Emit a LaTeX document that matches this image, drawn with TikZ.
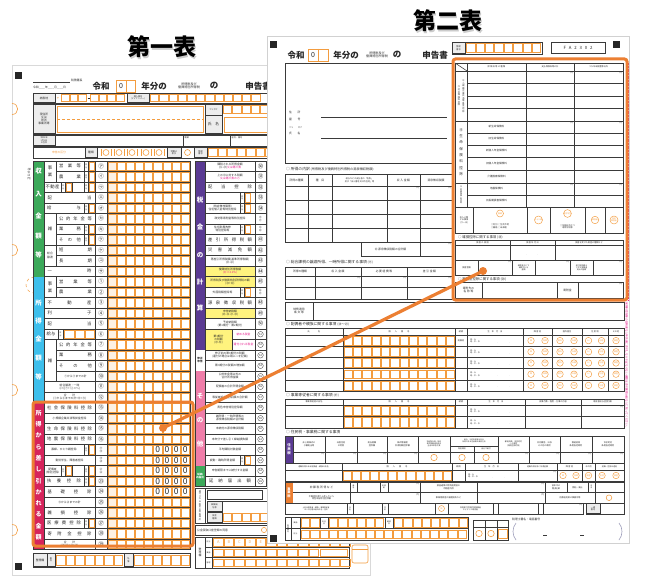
\documentclass[tikz,border=0pt]{standalone}
\usepackage{fontspec}
\setmainfont{Noto Sans CJK JP}
\XeTeXlinebreaklocale "ja"
\XeTeXlinebreakskip=0pt plus 1pt
\definecolor{acc}{HTML}{EC7F32}
\definecolor{oc}{HTML}{F39C3F}
\definecolor{grn}{HTML}{3CA95A}
\definecolor{blu}{HTML}{3DBFEC}
\definecolor{pur}{HTML}{5A3A93}
\definecolor{pnk}{HTML}{EF7DA9}
\definecolor{crm}{HTML}{D6245C}
\definecolor{yel}{HTML}{FFF37E}
\definecolor{mag}{HTML}{E6198C}
\definecolor{gln}{HTML}{3A3A3A}
\definecolor{txt}{HTML}{2A2A2A}
\definecolor{lgy}{HTML}{EDEDED}
\newcommand\zfz[1]{\fontsize{#1}{\dimexpr #1pt*23/20\relax}\selectfont}
\def\zjbfirst#1{#1\zjbnext}
\def\zjbnext#1{\ifx\relax#1\else\hfill#1\expandafter\zjbnext\fi}
\newcommand\zJB[2]{\makebox[#1pt]{\zjbfirst#2\relax}}
\tikzset{
  gl/.style={draw=gln,line width=0.55pt},
  ocl/.style={draw=oc,line width=0.55pt},
  lbl/.style={font=\zfz{4.3},text=txt,inner sep=0pt,align=center},
  lbs/.style={font=\zfz{2.8},text=txt,inner sep=0pt,align=center},
  lbt/.style={font=\zfz{2.1},text=txt,inner sep=0pt,align=center},
  num/.style={font=\zfz{5.5},text=txt,inner sep=0pt},
  bandtxt/.style={font=\bfseries\zfz{6.5},text=white,inner sep=0pt},
  vt/.style={text width=#1,align=center,inner sep=0pt,text=txt},
  hd/.style={font=\zfz{3.8},text=txt,inner sep=0pt,anchor=west},
  yen/.style={font=\zfz{2.2},text=txt,inner sep=0.4pt,anchor=north east},
  ttl/.style={font=\bfseries\zfz{23},inner sep=0pt},
  hdr/.style={font=\bfseries\zfz{8.5},text=black!85,inner sep=0pt},
  hlbox/.style={draw=acc,line width=3pt,rounded corners=2.5pt},
  ocirc/.style={circle,draw=oc,line width=0.45pt,inner sep=0pt,minimum size=6.5pt,font=\zfz{1.9},text=oc,align=center},
  lcell/.style={fill=lgy,draw=gln,line width=0.55pt},
}
% row helpers (row pitch 10.5, first row top 161)
\newcommand\zLL[4]{\node[lbl] at ({(#2+#3)/2},{161+(#1+0.5)*10.5}) {#4};}
\newcommand\zLS[4]{\node[lbs] at ({(#2+#3)/2},{161+(#1+0.5)*10.5}) {#4};}
\newcommand\zNM[3]{\node[num] at (#2,{161+(#1+0.5)*10.5}) {#3};}
\newcommand\zNC[3]{\node[circle,draw=txt,line width=0.3pt,inner sep=0pt,minimum size=5.6pt,font=\zfz{2.6},text=txt] at (#2,{161+(#1+0.5)*10.5}) {#3};}
\newcommand\zHL[3]{\draw[gl] (#2,{161+(#1)*10.5}) -- (#3,{161+(#1)*10.5});}
\newcommand\zVL[3]{\draw[gl] (#1,{161+(#2)*10.5}) -- (#1,{161+(#3)*10.5});}
\newcommand\zCC[4]{\foreach \k in {1,...,#3}{\draw[ocl] ({#2+(\k-1)*#4+0.5},{161+(#1)*10.5+1.1}) rectangle ({#2+\k*#4-0.5},{161+(#1+1)*10.5-1.1});}}
\newcommand\zOX[5]{\foreach \k in {1,...,#4}{\draw[ocl] ({#1+(\k-1)*#5+0.5},#2) rectangle ({#1+\k*#5-0.5},#3);}}
\newcommand\zGL[3]{\node[lbl] at (50,{161+((#1)+(#2)+1)/2*10.5}) {#3};}
\newcommand\zKB[2]{%
  \draw[gl] (#2,{161+(#1)*10.5}) -- (#2,{161+(#1+1)*10.5});
  \draw[gl] ({#2+4.5},{161+(#1)*10.5}) -- ({#2+4.5},{161+(#1+1)*10.5});
  \node[font=\zfz{1.9},text=txt,inner sep=0pt,text width=2pt,align=center] at ({#2+2.25},{161+(#1+0.5)*10.5}) {区分};
  \draw[ocl] ({#2+5.2},{161+(#1)*10.5+1.1}) rectangle ({#2+10.6},{161+(#1+1)*10.5-1.1});}
\begin{document}
\begin{tikzpicture}[x=1pt,y=-1pt]
\useasboundingbox (0,0) rectangle (650,586);
\fill[white] (0,0) rectangle (650,586);

% ---------------- titles
\node[ttl,text=black!20] at (163.3,48.3) {第一表};
\node[ttl] (t1) at (162,47) {第一表};
\node[ttl,text=black!20] at (449.3,22.3) {第二表};
\node[ttl] (t2) at (448,21) {第二表};

% ================= LEFT SHEET (第一表)
\draw[draw=black!15,fill=white,line width=0.6pt] (12,65) rectangle (370,575);
\foreach \yy in {109,250,390,530}
  {\draw[ocl,line width=0.6pt] (12,{\yy-5.5}) .. controls (19.5,{\yy-5.5}) and (19.5,{\yy+5.5}) .. (12,{\yy+5.5});}
\draw[ocl,dashed,line width=0.5pt] (34,285) circle[radius=8pt];
\fill[black!85] (15,72) rectangle (22,79);
\fill[black!85] (15,563) rectangle (22,570);

% header
\draw[gl] (33,82) -- (70,82);
\node[lbs,anchor=west] at (71,80.5) {税務署長};
\node[lbs,anchor=west] at (33,87.5) {令和\_\_\_\_年\_\_\_\_月\_\_\_\_日};
\node[hdr] (l-reiwa) at (101,86) {令和};
\draw[ocl,line width=0.7pt,fill=white] (116,80) rectangle (135,92);
\draw[ocl] (126,80) -- (126,92);
\node[font=\zfz{7},text=txt,inner sep=0pt] at (121,86) {0};
\node[hdr] at (154,86) {年分の};
\node[lbt,font=\zfz{3.1}] at (189,86) {所得税及び\\復興特別所得税};
\node[hdr] at (214,86) {の};
\node[hdr] at (258,86) {申告書};

% 納税地 row
\draw[gl] (33,93) rectangle (275,103);
\draw[lcell] (33.5,93.5) rectangle (55,102.5);
\node[lbs] at (44,98) {納税地};
\node[lbs,text=oc] at (58,98) {〒};
\zOX{61}{94.3}{101.7}{3}{8.6}
\draw[txt,line width=0.4pt] (87.5,98) -- (89.5,98);
\zOX{90}{94.3}{101.7}{4}{8.6}
\draw[lcell] (127,93.5) rectangle (149,102.5);
\node[lbt] at (138,98) {個人番号\\(マイナンバー)};
\zOX{150}{94.3}{101.7}{12}{9.2}

% address block
\draw[gl] (33,104) rectangle (275,134);
\draw[lcell] (33.5,104.5) rectangle (55,133.5);
\node[lbs] at (44,119) {現住所\\又は\\居所\\事業所等};
\draw[ocl,line width=0.6pt] (57,106) rectangle (203,132);
\draw[ocl,densely dashed] (57,119) -- (203,119);
\draw[lcell] (205,104.5) rectangle (222,115);
\draw[lcell] (205,115) rectangle (222,133.5);
\node[lbt] at (213.5,109.5) {フリガナ};
\node[lbl,font=\zfz{3.8}] at (213.5,124.5) {氏\quad 名};
\zOX{223}{105.5}{113.5}{5}{9.2}
\draw[ocl,line width=0.6pt] (224,117) rectangle (275,132);

% row 135-146
\draw[gl] (33,135) rectangle (275,146);
\draw[lcell] (33.5,135.5) rectangle (55,145.5);
\draw[gl] (183,135) -- (183,146); \draw[gl] (230,135) -- (230,146);
\node[lbt] at (44,140.5) {令和5年\\1月1日\\の住所};
\node[lbt,anchor=north west] at (184.5,136.5) {職業};
\node[lbt,anchor=north west] at (231.5,136.5) {屋号・雅号};

% row 147-158
\draw[gl] (33,147) rectangle (275,158);
\node[lbs,text=oc] at (59,152.5) {申告の区分};
\draw[lcell] (85,147.5) rectangle (97,157.5);
\node[lbs] at (91,152.5) {種類};
\foreach \xx in {106,119,132,146,159} {
  \draw[ocl] (\xx,152.5) circle[radius=3pt];
  \draw[ocl] ({\xx-5},149) -- ({\xx-5},156); \draw[ocl] ({\xx+5},149) -- ({\xx+5},156);}
\draw[lcell] (167,147.5) rectangle (181,157.5);
\draw[gl] (194,147) -- (194,158);
\draw[lcell] (194,147.5) rectangle (207,157.5);
\node[lbt] at (174,152.5) {特農の\\表示};
\draw[ocl] (187.5,152.5) circle[radius=3pt];
\node[lbt] at (200.5,152.5) {整理\\番号};
\zOX{208}{148.5}{156.5}{7}{9.5}

% ---- main grid, left half
\node[lbt,font=\zfz{2.6},text width=3pt] at (29,174) {(単位は円)};
\fill[grn] (33,161) rectangle (44,276.5);
\fill[blu] (33,276.5) rectangle (44,402.5);
\fill[crm] (33,402.5) rectangle (44,549.5);
\foreach \c/\yy in {収/171,入/194,金/216,額/236,等/255} {\node[bandtxt] at (38.5,\yy) {\c};}
\foreach \c/\yy in {所/303,得/321,金/339,額/358,等/377} {\node[bandtxt] at (38.5,\yy) {\c};}
\foreach \c [count=\n from 0] in {所,得,か,ら,差,し,引,か,れ,る,金,額}
  {\node[bandtxt,font=\bfseries\zfz{6}] at (38.5,{413+\n*11.3}) {\c};}
\draw[gl] (33,161) rectangle (190,549.5);
\foreach \i in {0,2,3,4,5,8,10,11,13,14,15,16,17,21,22,...,37} {\zHL{\i}{44}{190}}
\foreach \i in {1,6,7,9,12,18,19,20} {\zHL{\i}{56}{190}}
\zVL{44}{0}{37} \zVL{95}{0}{37} \zVL{107}{0}{37}
\zVL{56}{0}{2} \zVL{56}{5}{10} \zVL{56}{11}{13} \zVL{56}{17}{21}
\foreach \i in {0,...,36} {\fill[oc!14] (108,{161+\i*10.5+1.1}) rectangle (116.15,{161+(\i+1)*10.5-1.1});}
\foreach \i in {0,...,36} {\zCC{\i}{107.5}{9}{9.15}}
\foreach \i in {0,...,36} {\foreach \k in {3,6} {\draw[oc,line width=1pt] ({107.5+\k*9.15},{161+\i*10.5+1.1}) -- ({107.5+\k*9.15},{161+(\i+1)*10.5-1.1});}}
\foreach \i in {27,...,31} {\foreach \k in {5,...,8} {\node[font=\zfz{8.5},text=txt,inner sep=0pt] at ({107.5+(\k+0.5)*9.15},{161+(\i+0.5)*10.5}) {0};}}

\zGL{0}{1}{事\\[2pt]業}
\zLL{0}{56}{84}{\zJB{22}{営業等}} \zKB{0}{84}
\zLL{1}{56}{84}{\zJB{22}{農業}} \zKB{1}{84}
\zLL{2}{44}{61}{\zJB{14}{不動産}} \zKB{2}{61} \zVL{72}{2}{3} \zKB{2}{84}
\zLL{3}{44}{95}{\zJB{44}{配当}}
\zLL{4}{44}{84}{\zJB{34}{給与}} \zKB{4}{84}
\zGL{5}{7}{雑}
\zLL{5}{56}{95}{\zJB{33}{公的年金等}}
\zLL{6}{56}{84}{\zJB{22}{業務}} \zKB{6}{84}
\zLL{7}{56}{84}{\zJB{22}{その他}} \zKB{7}{84}
\node[lbs] at (50,255.5) {総合\\譲渡};
\zLL{8}{56}{95}{\zJB{33}{短期}}
\zLL{9}{56}{95}{\zJB{33}{長期}}
\zLL{10}{44}{95}{\zJB{44}{一時}}
\zGL{11}{12}{事\\[2pt]業}
\zLL{11}{56}{95}{\zJB{33}{営業等}}
\zLL{12}{56}{95}{\zJB{33}{農業}}
\zLL{13}{44}{95}{\zJB{44}{不動産}}
\zLL{14}{44}{95}{\zJB{44}{利子}}
\zLL{15}{44}{95}{\zJB{44}{配当}}
\zLL{16}{44}{58}{給与} \zVL{58}{16}{17} \zVL{63}{16}{17}
\node[font=\zfz{1.9},text=txt,inner sep=0pt,text width=2pt,align=center] at (60.5,{161+16.5*10.5}) {区分};
\zCC{16}{64}{3}{10.3}
\zGL{17}{20}{雑}
\zLL{17}{56}{95}{\zJB{33}{公的年金等}}
\zLL{18}{56}{95}{\zJB{33}{業務}}
\zLL{19}{56}{95}{\zJB{33}{その他}}
\zLS{20}{56}{95}{⑦から⑨までの計}
\zLS{21}{44}{95}{総合譲渡・一時\\㋙+\{(㋘+㋛)×½\}}
\zLS{22}{44}{95}{合\qquad 計\\(①から⑥までの計+⑩+⑪)}
\zLL{23}{44}{95}{\zJB{45}{社会保険料控除}}
\zLS{24}{44}{95}{小規模企業共済等掛金控除}
\zLL{25}{44}{95}{\zJB{45}{生命保険料控除}}
\zLL{26}{44}{95}{\zJB{45}{地震保険料控除}}
\zLS{27}{44}{84}{寡婦、ひとり親控除} \zKB{27}{84}
\zLS{28}{44}{95}{勤労学生、障害者控除}
\zLS{29}{44}{61}{配偶者\\(特別)控除} \zKB{29}{61} \zVL{72}{29}{30} \zKB{29}{84}
\zLL{30}{44}{84}{\zJB{34}{扶養控除}} \zKB{30}{84}
\zLL{31}{44}{95}{\zJB{44}{基礎控除}}
\zLS{32}{44}{95}{⑬から㉔までの計}
\zLL{33}{44}{95}{\zJB{44}{雑損控除}}
\zLL{34}{44}{84}{\zJB{34}{医療費控除}} \zKB{34}{84}
\zLL{35}{44}{95}{\zJB{44}{寄附金控除}}
\zLS{36}{44}{95}{合\qquad 計\\(㉕+㉖+㉗+㉘)}
\foreach \i/\g in {0/㋐,1/㋑,2/㋒,3/㋓,4/㋔,5/㋕,6/㋖,7/㋗,8/㋘,9/㋙,10/㋚,11/①,12/②,13/③,14/④,15/⑤,16/⑥,17/⑦,18/⑧,19/⑨,20/⑩,21/⑪,22/⑫,23/⑬,24/⑭,25/⑮,26/⑯,30/㉓,31/㉔,32/㉕,33/㉖,34/㉗,35/㉘,36/㉙}
  {\zNM{\i}{101}{\g}}
\node[lbt,font=\zfz{2.8}] at (101,{161+27.5*10.5}) {⑰\\⑱};
\node[lbt,font=\zfz{2.8}] at (101,{161+28.5*10.5}) {⑲\\⑳};
\node[lbt,font=\zfz{2.8}] at (101,{161+29.5*10.5}) {㉑\\㉒};

% bottom 整理欄 (left)
\draw[gl] (33,553) rectangle (190,567);
\draw[lcell] (33.5,553.5) rectangle (47,566.5);
\draw[lcell] (47,553.5) rectangle (55,566.5);
\node[lbs] at (40,560) {整理欄};
\node[lbt] at (51,560) {番\\号};
\zOX{56}{555}{565}{7}{9.6}
\draw[lcell] (124,553.5) rectangle (133,566.5);
\node[lbt] at (128.5,560) {名\\簿};
\zOX{134}{555}{565}{6}{9.3}

% ---- main grid, right half
\fill[pur] (195,161) rectangle (205,350);
\fill[pnk] (195,371) rectangle (205,465.5);
\fill[grn] (195,465.5) rectangle (205,486.5);
\foreach \yy in {10,11,14} {\fill[yel] (205.3,{161+\yy*10.5+0.3}) rectangle (254.7,{161+(\yy+1)*10.5-0.3});}
\fill[yel] (205.3,{161+16*10.5+0.3}) rectangle (231.7,{161+18*10.5-0.3});
\foreach \c/\yy in {税/200,金/227,の/255,計/282,算/308} {\node[bandtxt] at (200,\yy) {\c};}
\foreach \c/\yy in {そ/396,の/420,他/444} {\node[bandtxt] at (200,\yy) {\c};}
\node[bandtxt,font=\bfseries\zfz{2.6},align=center] at (200,476) {延納\\の届出};
\node[lbt,font=\bfseries\zfz{2.6}] at (200,360.5) {修正\\申告};
\draw[gl] (195,161) rectangle (275,486.5);
\foreach \i in {1,...,16,18,19,...,30} {\zHL{\i}{205}{275}}
\zHL{17}{232}{275}
\zVL{205}{0}{31} \zVL{255}{0}{31} \zVL{266}{0}{31} \zVL{232}{16}{18}
\zLS{0}{205}{255}{課税される所得金額\\(⑫-㉙){\color{mag}又は第三表}}
\zLS{1}{205}{255}{上の㉚に対する税額\\{\color{mag}又は第三表の㊇}}
\zLL{2}{205}{255}{\zJB{44}{配当控除}}
\zVL{240}{3}{4} \zKB{3}{240}
\zLS{4}{205}{240}{(特定増改築等)\\住宅借入金等特別控除} \zKB{4}{240}
\zLS{5}{205}{255}{政党等寄附金等特別控除}
\zLS{6}{205}{240}{住宅耐震改修\\特別控除等} \zKB{6}{240}
\zLL{7}{205}{255}{\zJB{44}{差引所得税額}}
\zLL{8}{205}{255}{\zJB{44}{災害減免額}}
\zLS{9}{205}{255}{再差引所得税額(基準所得税額)\\(㊶-㊷)}
\zLS{10}{205}{255}{復興特別所得税額\\{\color{mag}(㊸×2.1\%)}}
\zLS{11}{205}{255}{所得税及び復興特別所得税の額\\(㊸+㊹)}
\zLS{12}{205}{240}{外国税額控除等} \zKB{12}{240}
\zLL{13}{205}{255}{\zJB{44}{源泉徴収税額}}
\zLS{14}{205}{255}{申告納税額\\(㊺-㊻-㊼-㊽)}
\zLS{15}{205}{255}{予定納税額\\(第1期分・第2期分)}
\node[lbs] at (218.5,{161+17*10.5}) {第3期分\\の税額\\(㊾-㊿)};
\zLS{16}{232}{255}{\color{mag}納める税金}
\zLS{17}{232}{255}{\color{mag}還付される税金}
\zLS{18}{205}{255}{修正前の第3期分の税額\\(還付の場合は頭に△を記載)}
\zLS{19}{205}{255}{第3期分の税額の増加額}
\zLS{20}{205}{255}{公的年金等以外の\\合計所得金額}
\zLS{21}{205}{255}{配偶者の合計所得金額}
\zLS{22}{205}{255}{専従者給与(控除)額の合計額}
\zLS{23}{205}{255}{青色申告特別控除額}
\zLS{24}{205}{255}{雑所得・一時所得等の\\源泉徴収税額の合計額}
\zLS{25}{205}{255}{未納付の源泉徴収税額}
\zLS{26}{205}{255}{本年分で差し引く繰越損失額}
\zLS{27}{205}{255}{平均課税対象金額}
\zLS{28}{205}{240}{変動・臨時所得金額} \zKB{28}{240}
\zLS{29}{205}{255}{申告期限までに納付する金額}
\zLL{30}{205}{255}{\zJB{42}{延納届出額}}
\foreach \i/\g in {0/㉚,1/㉛,2/㉜,3/㉝,4/㉞,7/㊶,8/㊷,9/㊸,10/㊹,11/㊺,13/㊽,14/㊾,15/㊿}
  {\zNM{\i}{260.5}{\g}}
\node[lbt,font=\zfz{2.6}] at (260.5,{161+5.5*10.5}) {㉟\\㊲};
\node[lbt,font=\zfz{2.6}] at (260.5,{161+6.5*10.5}) {㊳\\㊵};
\node[lbt,font=\zfz{2.6}] at (260.5,{161+12.5*10.5}) {㊻\\㊼};
\foreach \i in {16,...,30} {\pgfmathtruncatemacro\nn{\i+35}\zNC{\i}{260.5}{\nn}}

% 還付 block
\draw[gl] (195,488) rectangle (275,523);
\draw[gl] (205,488) -- (205,523);
\node[vt=2.4pt,font=\zfz{2.2}] at (200,505.5) {還付される税金の受取場所};
\draw[gl] (207,490) rectangle (262,499);
\draw[lcell] (207,501) rectangle (222,511); \draw[gl] (222,501) -- (275,501);
\node[lbt] at (214.5,506) {郵便局\\名等};
\draw[lcell] (207,512) rectangle (222,522);
\node[lbt] at (214.5,517) {預金\\種類};
\zOX{223}{513}{521}{5}{9.2}
% 公金
\draw[gl] (195,525) rectangle (275,535);
\node[lbs,anchor=west] at (197,530) {公金受取口座登録の同意};
\draw[ocl] (264,530) circle[radius=2.6pt];
% 整理欄 (right)
\draw[gl] (195,537) rectangle (349,568);
\draw[gl] (205,537) -- (205,568); \draw[gl] (212,537) -- (212,568);
\draw[gl] (205,547.5) -- (349,547.5); \draw[gl] (205,557.5) -- (349,557.5);
\node[lbs] at (200,552.5) {整\\理\\欄};
\node[lbt,font=\zfz{1.8}] at (208.5,542.25) {区分};
\node[lbt,font=\zfz{1.8}] at (208.5,552.5) {異動};
\node[lbt,font=\zfz{1.8}] at (208.5,562.75) {管理};
\foreach \c [count=\n from 0] in {A,B,C,D,E,F,G,H,I,J,K,L,M} {
  \draw[ocl] ({213+\n*10.6+0.5},538.5) rectangle ({213+(\n+1)*10.6-0.5},546.5);
  \node[font=\zfz{4},text=oc!80,inner sep=0pt] at ({213+(\n+0.5)*10.6},542.5) {\c};}
\zOX{213}{549}{556.5}{10}{10.6}
\draw[ocl] (320,549) rectangle (347,556.5);
\zOX{213}{559}{566.5}{13}{10.6}
\draw[ocl,line width=0.6pt,rounded corners=2pt] (352,545) rectangle (368,563);
\draw[ocl] (352,549) -- (368,549);

% left highlight box
\draw[hlbox] (33,402) rectangle (193,546);

% ================= RIGHT SHEET (第二表)
\draw[draw=black!18,fill=white,line width=0.6pt] (267,36) rectangle (629,543);
\fill[black!85] (270,41) rectangle (277,48);
\fill[black!85] (613,41) rectangle (620,48);
\fill[black!85] (270,535) rectangle (277,542);
\node[hdr] (r-reiwa) at (296,55) {令和};
\draw[ocl,line width=0.7pt] (308,49) rectangle (328,61);
\draw[ocl] (318,49) -- (318,61);
\node[font=\zfz{7},text=txt,inner sep=0pt] at (313,55) {0};
\node[hdr] at (346,55) {年分の};
\node[lbt,font=\zfz{3.1}] at (377,55) {所得税及び\\復興特別所得税};
\node[hdr] at (397,55) {の};
\node[hdr] at (435,55) {申告書};
\draw[gl] (452,42) rectangle (542,54);
\draw[lcell] (452.5,42.5) rectangle (465,53.5);
\node[lbt] at (458.5,48) {整理\\番号};
\zOX{466}{43.5}{52.5}{8}{9.4}
\draw[gl,line width=0.6pt] (551,42) rectangle (605,53);
\node[font=\zfz{4.3},text=txt,inner sep=0pt] at (578,47.5) {F\ \ \ A\ \ \ 2\ \ \ 3\ \ \ 0\ \ \ 2};

% address
\draw[gl] (285,63) rectangle (452,163);
\node[lbs,anchor=west] at (289,112) {住\qquad 所};
\node[lbs,anchor=west] at (289,119) {屋\qquad 号};
\node[lbt,anchor=west] at (289,127.5) {フリ\qquad\ ガナ};
\node[lbs,anchor=west] at (289,133) {氏\qquad 名};
\draw[gln,line width=0.6pt] (321,117) -- (447,117);
\draw[gln,line width=0.6pt] (321,138) -- (447,138);

% 所得の内訳
\node[hd] at (286,169) {○\ 所得の内訳\ {\zfz{3.2}(所得税及び復興特別所得税の源泉徴収税額)}};
\draw[gl] (285,174) rectangle (452,242);
\foreach \yy in {186,200,214,228} {\draw[gl] (285,\yy) -- (452,\yy);}
\foreach \xx in {308,332,387,420} {\draw[gl] (\xx,174) -- (\xx,242);}
\node[lbs] at (296.5,180) {所得の種類};
\node[lbs] at (320,180) {種\quad 目};
\node[lbt] at (359.5,180) {給与などの支払者の「名称」\\及び「法人番号又は所在地」等};
\node[lbs] at (403.5,180) {収\ 入\ 金\ 額};
\node[lbs] at (436,180) {源泉徴収税額};
\node[yen] at (419.5,186.3) {円}; \node[yen] at (451.5,186.3) {円};
\draw[gl] (361,242) rectangle (452,256);
\draw[gl] (420,242) -- (420,256);
\node[lbs] at (390.5,249) {㊽\ 源泉徴収税額の合計額};
\node[yen] at (451.5,242.3) {円};

% 総合課税の譲渡所得
\node[hd] at (286,262) {○\ 総合課税の譲渡所得、一時所得に関する事項\ {\zfz{3.2}(⑪)}};
\draw[gl] (285,267) rectangle (452,299);
\draw[gl] (285,276) -- (452,276); \draw[gl] (285,287.5) -- (452,287.5);
\foreach \xx in {315,361,407} {\draw[gl] (\xx,267) -- (\xx,299);}
\node[lbs] at (300,271.5) {所得の種類};
\node[lbs] at (338,271.5) {収\ 入\ 金\ 額};
\node[lbs] at (384,271.5) {必\ 要\ 経\ 費\ 等};
\node[lbs] at (429.5,271.5) {差\ 引\ 金\ 額};
\node[yen] at (360.5,276.3) {円}; \node[yen] at (406.5,276.3) {円}; \node[yen] at (451.5,276.3) {円};

% 特例適用条文等
\draw[gl] (285,302) rectangle (624,320);
\draw[gl] (313,302) -- (313,320);
\node[lbs] at (299,311) {特例適用\\条\ 文\ 等};

% 配偶者や親族
\node[hd] at (286,324) {○\ 配偶者や親族に関する事項\ {\zfz{3.2}(⑳～㉓)}};
\draw[gl] (285,328) rectangle (624,391);
\draw[gl] (285,335) -- (624,335);
\foreach \r in {1,...,4} {\draw[gl] (285,{335+\r*11.2}) -- (624,{335+\r*11.2});}
\foreach \xx in {343,455,467,523,552,582,608} {\draw[gl] (\xx,328) -- (\xx,391);}
\node[lbt] at (314,331.5) {氏\qquad\qquad 名};
\node[lbt] at (399,331.5) {個\qquad 人\qquad 番\qquad 号};
\node[lbt] at (461,331.5) {続柄};
\node[lbt] at (495,331.5) {生\quad 年\quad 月\quad 日};
\node[lbt] at (537.5,331.5) {障\ 害\ 者};
\node[lbt] at (567,331.5) {国外居住};
\node[lbt] at (595,331.5) {住\ 民\ 税};
\node[lbt] at (616,331.5) {その他};
\node[lbt] at (461,340.6) {配偶者};
\foreach \r in {0,...,4} {
  \zOX{343.5}{{335+\r*11.2+1.2}}{{335+\r*11.2+10}}{12}{9.3}
  \node[lbt,font=\zfz{1.9},align=left] at (475,{335+\r*11.2+5.6}) {明・大\\昭・平・令};
  \node[lbt] at (498,{335+\r*11.2+8}) {.};
  \node[lbt] at (510,{335+\r*11.2+8}) {.};
  \node[ocirc] at (531,{335+\r*11.2+5.6}) {障};
  \node[ocirc] at (545,{335+\r*11.2+5.6}) {特障};
  \node[ocirc] at (560,{335+\r*11.2+5.6}) {国外};
  \node[ocirc] at (574,{335+\r*11.2+5.6}) {年調};
  \node[ocirc] at (588.5,{335+\r*11.2+5.6}) {16};
  \node[ocirc] at (601.5,{335+\r*11.2+5.6}) {別居};
  \node[ocirc] at (616,{335+\r*11.2+5.6}) {調整};}

% 事業専従者
\node[hd] at (286,395) {○\ 事業専従者に関する事項\ {\zfz{3.2}(㊼)}};
\draw[gl] (285,399) rectangle (624,428);
\draw[gl] (285,405) -- (624,405); \draw[gl] (285,416.5) -- (624,416.5);
\foreach \xx in {343,455,467,525,581} {\draw[gl] (\xx,399) -- (\xx,428);}
\node[lbt] at (314,402) {事業専従者の氏名};
\node[lbt] at (399,402) {個\qquad 人\qquad 番\qquad 号};
\node[lbt] at (461,402) {続柄};
\node[lbt] at (496,402) {生\quad 年\quad 月\quad 日};
\node[lbt] at (553,402) {従事月数・程度・仕事の内容};
\node[lbt] at (602.5,402) {専従者給与(控除)額};
\node[yen] at (623.5,405.3) {円};
\foreach \yy in {405,416.5} {
  \zOX{343.5}{{\yy+1.2}}{{\yy+10.3}}{12}{9.3}
  \node[lbt,font=\zfz{1.9},align=left] at (475,{\yy+5.75}) {明・大\\昭・平・令};
  \node[lbt] at (498,{\yy+8}) {.}; \node[lbt] at (510,{\yy+8}) {.};}

% 住民税・事業税
\node[hd] at (286,432) {○\ 住民税・事業税に関する事項};
\fill[pur] (285,436) rectangle (293,463);
\node[lbt,font=\bfseries\zfz{3.4},text=white] at (289,449.5) {住\\民\\税};
\draw[gl] (285,436) rectangle (624,463);
\draw[gl] (293,452) -- (624,452);
\foreach \xx in {293,325,357,387,418,450,498,529,560,592} {\draw[gl] (\xx,436) -- (\xx,463);}
\draw[gl] (450,446) -- (498,446); \draw[gl] (474,446) -- (474,463);
\node[lbt] at (309,444) {非上場株式の\\少額配当等};
\node[lbt] at (341,444) {非居住者\\の特例};
\node[lbt] at (372,444) {配当割額\\控除額};
\node[lbt] at (402.5,444) {株式等譲渡\\所得割額控除額};
\node[lbt,font=\zfz{1.8}] at (434,444) {特定配当等・特定\\株式等譲渡所得の\\全部の申告不要};
\node[lbt,font=\zfz{1.8}] at (474,441) {給与、公的年金等以外の\\所得に係る住民税の徴収方法};
\node[lbt,font=\zfz{1.9}] at (462,449) {特別徴収};
\node[lbt,font=\zfz{1.9}] at (486,449) {自分で納付};
\node[lbt,font=\zfz{1.9}] at (513.5,444) {都道府県、市区町村\\への寄附\\(特例控除対象)};
\node[lbt] at (544.5,444) {共同募金、日赤\\その他の寄附};
\node[lbt] at (576,444) {都道府県\\条例指定寄附};
\node[lbt] at (608,444) {市区町村\\条例指定寄附};
\foreach \xx in {325,357,387,418,529,560,592,624} {\node[yen] at ({\xx-0.5},452.3) {円};}
\foreach \xx in {434,462,486} {\draw[ocl] (\xx,457.5) circle[radius=3.2pt];}

\draw[gl] (285,463) rectangle (624,481);
\draw[gl] (285,470) -- (624,470);
\foreach \xx in {342,452,465,518,557,582,595} {\draw[gl] (\xx,463) -- (\xx,481);}
\node[lbt,font=\zfz{1.9}] at (313.5,466.5) {退職所得のある配偶者・親族の氏名};
\node[lbt] at (397,466.5) {個\qquad 人\qquad 番\qquad 号};
\node[lbt] at (458.5,466.5) {続柄};
\node[lbt] at (491.5,466.5) {生\quad 年\quad 月\quad 日};
\node[lbt,font=\zfz{1.9}] at (537.5,466.5) {退職所得を除く所得金額};
\node[lbt] at (569.5,466.5) {障\ 害\ 者};
\node[lbt] at (588.5,466.5) {その他};
\node[lbt,font=\zfz{1.9}] at (609.5,466.5) {退職・控除の適用};
\zOX{342.5}{471.2}{479.8}{12}{9.1}
\node[lbt,font=\zfz{1.9},align=left] at (473,475.5) {明・大\\昭・平・令};
\node[lbt] at (493,478) {.}; \node[lbt] at (505,478) {.};
\node[yen] at (556.5,470.3) {円};
\foreach \xx/\t in {563/障,576/特障,588.5/調整,602/別居,616/調整} {\node[ocirc] at (\xx,475.5) {\t};}

\fill[acc] (285,482) rectangle (293,503);
\node[lbt,font=\bfseries\zfz{3.2},text=white] at (289,492.5) {事\\業\\税};
\draw[gl] (285,482) rectangle (624,503);
\draw[gl] (293,492.5) -- (624,492.5);
\foreach \xx in {350,357,380,388,420,477,545,567,588,595} {\draw[gl] (\xx,482) -- (\xx,492.5);}
\foreach \xx in {350,420,477,545,595} {\draw[gl] (\xx,492.5) -- (\xx,503);}
\node[lbs] at (321.5,487.25) {非\ 課\ 税\ 所\ 得\ な\ ど};
\node[lbt,font=\zfz{1.8}] at (353.5,487.25) {番\\号};
\node[lbt,font=\zfz{1.8}] at (384,487.25) {所得\\税};
\node[lbt] at (448.5,487.25) {損益通算の特例適用前の\\不動産所得};
\node[lbt] at (556,487.25) {前年中の\\開(廃)業};
\node[lbt] at (577.5,487.25) {開始・廃止};
\node[lbt,font=\zfz{1.8}] at (591.5,487.25) {月\\日};
\node[yen] at (419.5,482.3) {円}; \node[yen] at (544.5,482.3) {円};
\node[lbt] at (321.5,497.75) {不動産所得から差し引いた\\青色申告特別控除額};
\node[lbt] at (448.5,497.75) {事業用資産の譲渡損失など};
\node[lbt] at (570,497.75) {他都道府県の事務所等};
\node[yen] at (419.5,492.8) {円}; \node[yen] at (544.5,492.8) {円};
\draw[ocl] (609,497.75) circle[radius=2.8pt];

\draw[gl] (285,503) rectangle (583,514);
\foreach \xx in {347,353,382,388,435,448,493,498,538,543} {\draw[gl] (\xx,503) -- (\xx,514);}
\node[lbt,font=\zfz{1.8}] at (316,508.5) {上記の配偶者・親族・事業専従者\\のうち別居の者の氏名・住所};
\node[lbt,font=\zfz{1.8}] at (350,508.5) {氏\\名};
\node[lbt,font=\zfz{1.8}] at (385,508.5) {住\\所};
\node[ocirc,minimum size=6pt] at (441.5,508.5) {扶};
\node[lbt,font=\zfz{1.9}] at (470.5,508.5) {所得税で控除対象配偶者\\などとした専従者};
\node[yen] at (582.5,503.3) {円};
\draw[gl] (586,503) rectangle (624,514);
\draw[lcell] (586.5,503.5) rectangle (600,513.5);
\node[lbt] at (593,508.5) {一連\\番号};

% bottom block
\draw[gl] (285,517) rectangle (468,540);
\draw[gl] (285,528.5) -- (468,528.5);
\draw[gl] (291,517) -- (291,540); \draw[gl] (300,517) -- (300,540);
\node[lbt,font=\zfz{1.8}] at (288,528.5) {管\\理\\補\\完};
\node[lbt,font=\zfz{1.8}] at (295.5,522.75) {異動};
\node[lbt,font=\zfz{1.8}] at (295.5,534.25) {区分};
\zOX{301}{518.5}{527.2}{2}{9.2}
\draw[gl] (320,517) -- (320,528.5); \draw[gl] (328,517) -- (328,528.5);
\node[lbt,font=\zfz{1.8}] at (324,522.75) {年月\\日};
\zOX{329}{518.5}{527.2}{6}{9.2}
\draw[gl] (385,517) -- (385,528.5); \draw[gl] (393,517) -- (393,528.5);
\node[lbt,font=\zfz{1.8}] at (389,522.75) {確認\\日};
\zOX{394}{518.5}{527.2}{8}{9.2}
\zOX{301}{530}{538.7}{18}{9.2}
\draw[gl] (473,520) rectangle (508,540);
\draw[gl] (473,527) -- (508,527); \draw[gl] (485,520) -- (485,540); \draw[gl] (497,520) -- (497,540);
\draw[ocl] (479,533.5) circle[radius=3.2pt];
\draw[ocl] (491,533.5) circle[radius=3.2pt];
\draw[ocl] (498,529) rectangle (507,538.5);
\node[lbs,anchor=west] at (512,519.5) {税理士署名・電話番号};
\draw[blue!25!gln!45,line width=0.6pt] (516,523) .. controls (512,528) and (512,535) .. (516,540);
\draw[blue!25!gln!45,line width=0.6pt] (619,523) .. controls (623,528) and (623,535) .. (619,540);
\draw[gln,line width=0.4pt] (543,535) -- (547,535);
\draw[gln,line width=0.4pt] (580,535) -- (584,535);

% right edge magenta note
\draw[mag,densely dotted,line width=0.4pt] (628.3,63) -- (628.3,300);
\node[rotate=-90,font=\zfz{2.7},text=mag,inner sep=0pt] at (626.5,364) {○\ 保険料控除等の証明書など申告書に添付しなければならない書類は添付書類台紙などに貼ってください。};

% ---- highlighted table (保険料控除等)
\draw[gl] (455,63) rectangle (623,207);
\draw[gl] (455,71) -- (623,71);
\foreach \yy in {83,96,108,133,145,157,170,195} {\draw[gl] (467,\yy) -- (623,\yy);}
\foreach \yy in {121,183} {\draw[gl,line width=0.8pt] (455,\yy) -- (623,\yy);}
\foreach \xx in {467,526,574} {\draw[gl] (\xx,63) -- (\xx,207);}
\draw[gl] (455,63) -- (467,71);
\node[lbt] at (496.5,67) {保\ 険\ 料\ 等\ の\ 種\ 類};
\node[lbt] at (550,67) {支払保険料等の計};
\node[lbt] at (598.5,67) {うち年末調整等以外};
\node[vt=2.6pt,font=\zfz{2.2}] at (459,96) {⑬社会保険料控除};
\node[vt=2.6pt,font=\zfz{2.2}] at (463.5,96) {⑭小規模企業共済等掛金控除};
\node[vt=3.8pt,font={\fontsize{3.5}{6.3}\selectfont}] at (461,152) {⑮生命保険料控除};
\node[vt=2.4pt,font=\zfz{2}] at (461,195) {⑯地震保険料控除};
\foreach \t/\yy in {新生命保険料/127,旧生命保険料/139,新個人年金保険料/151,旧個人年金保険料/163.5,介護医療保険料/176.5,地震保険料/189,旧長期損害保険料/201}
  {\node[lbt,font=\zfz{2.6}] at (496.5,\yy) {\t};}
\foreach \yy in {71,121,183} {\node[yen] at (573.5,{\yy+0.3}) {円}; \node[yen] at (622.5,{\yy+0.3}) {円};}
% 本人に関する事項
\draw[gl] (455,207) rectangle (623,233);
\foreach \xx in {473,527,550,585,605} {\draw[gl] (\xx,207) -- (\xx,233);}
\node[lbt] at (464,220) {本人に関\\する事項\\(⑰～⑳)};
\node[ocirc,minimum size=7pt] at (500,213.5) {寡婦};
\node[lbt,font=\zfz{2.1},align=left] at (500,226) {□死別\ \ □生死不明\\□離婚\ \ □未帰還};
\node[ocirc,minimum size=8pt] at (538.5,220) {ひとり親};
\node[ocirc,minimum size=7.5pt] at (567.5,213.5) {勤労学生};
\node[lbt,font=\zfz{2.1}] at (567.5,226.5) {□年調以外かつ\\専修学校等};
\node[ocirc,minimum size=7.5pt] at (595,220) {障害者};
\node[ocirc,minimum size=8pt] at (614,220) {特別\\障害者};
% 雑損控除
\node[hd,font=\zfz{3.4}] at (458,237) {○\ 雑損控除に関する事項\ (㉖)};
\draw[gl] (455,240) rectangle (623,275);
\draw[gl] (455,245) -- (623,245); \draw[gl] (455,260) -- (623,260);
\draw[gl] (510,240) -- (510,260); \draw[gl] (555,240) -- (555,260);
\foreach \xx in {478,512,535,570,593} {\draw[gl] (\xx,260) -- (\xx,275);}
\node[lbt] at (482.5,242.5) {損\ 害\ の\ 原\ 因};
\node[lbt] at (532.5,242.5) {損\ 害\ 年\ 月\ 日};
\node[lbt] at (589,242.5) {損害を受けた資産の種類など};
\node[lbt] at (527,255) {.}; \node[lbt] at (538,255) {.};
\node[lbt] at (466.5,267.5) {損害金額};
\node[lbt,font=\zfz{1.9}] at (523.5,267.5) {保険金などで\\補填される\\金額};
\node[lbt,font=\zfz{1.9}] at (581.5,267.5) {差引損失額の\\うち災害関連\\支出の金額};
\foreach \xx in {512,570,623} {\node[yen] at ({\xx-0.5},260.3) {円};}
% 寄附金控除
\node[hd,font=\zfz{3.4}] at (458,279) {○\ 寄附金控除に関する事項\ (㉘)};
\draw[gl] (455,282) rectangle (623,298);
\foreach \xx in {482,557,578} {\draw[gl] (\xx,282) -- (\xx,298);}
\node[lbs] at (468.5,290) {寄附先の\\名\ 称\ 等};
\node[lbs] at (567.5,290) {寄附金};
\node[yen] at (622.5,282.3) {円};

\draw[hlbox] (453,59) rectangle (627,300);

% ---- connector
\node[circle,fill=acc,minimum size=8pt,inner sep=0pt] (dotL) at (163,428) {};
\node[circle,fill=acc,minimum size=8pt,inner sep=0pt] (dotR) at (483,271) {};
\draw[acc,line width=3.2pt] (dotL.center) -- (dotR.center);
\end{tikzpicture}
\end{document}
